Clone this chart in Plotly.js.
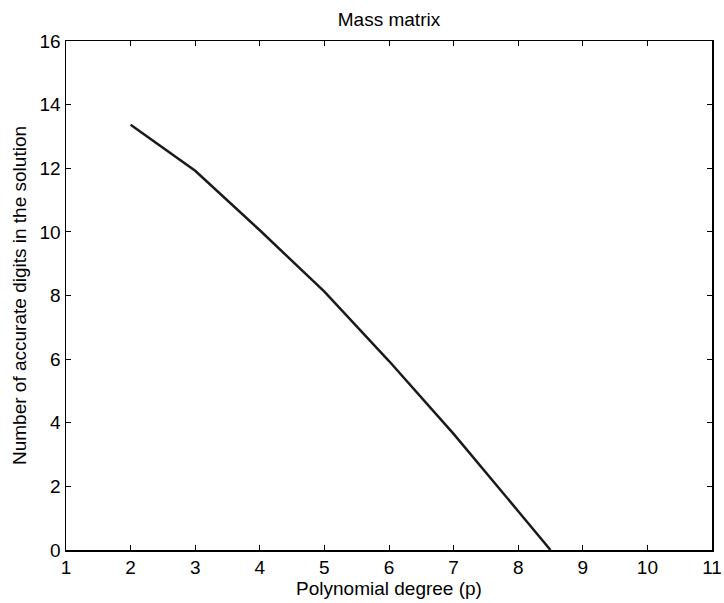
<!DOCTYPE html>
<html><head><meta charset="utf-8">
<script src="https://cdn.plot.ly/plotly-3.0.1.min.js"></script>
<style>body{margin:0;padding:0;background:#fff}</style>
</head><body>
<div id="chart" style="width:724px;height:603px"></div>
<script>
const degree = [2, 3, 4, 5, 6, 7, 8, 8.5];
const accurateDigits = [13.37, 11.92, 10.05, 8.12, 5.94, 3.65, 1.22, 0];
const xTicks = [1, 2, 3, 4, 5, 6, 7, 8, 9, 10, 11];
const yTicks = [0, 2, 4, 6, 8, 10, 12, 14, 16];

const font = {family: 'Liberation Sans, Arial, sans-serif', color: '#000'};
const axisCommon = {
  showgrid: false, zeroline: false, showline: true, linecolor: '#000', linewidth: 1.5,
  mirror: 'ticks', ticks: 'inside', ticklen: 5, tickwidth: 1, tickcolor: '#000',
  tickfont: Object.assign({size: 19}, font)
};
Plotly.newPlot('chart', [{
  x: degree, y: accurateDigits, mode: 'lines', type: 'scatter',
  line: {color: '#1a1a1a', width: 2.5}, showlegend: false
}], {
  width: 724, height: 603,
  margin: {l: 66, r: 12, t: 41, b: 53},
  paper_bgcolor: '#fff', plot_bgcolor: '#fff',
  title: {text: 'Mass matrix', font: Object.assign({size: 19}, font), xref: 'paper', x: 0.5, xanchor: 'center', yref: 'container', y: 0.968, yanchor: 'middle'},
  xaxis: Object.assign({}, axisCommon, {range: [1, 11], tickvals: xTicks, ticktext: xTicks.map(String),
    title: {text: 'Polynomial degree (p)', font: Object.assign({size: 19}, font), standoff: 2}}),
  yaxis: Object.assign({}, axisCommon, {range: [0, 16], tickvals: yTicks, ticktext: yTicks.map(String),
    title: {text: 'Number of accurate digits in the solution', font: Object.assign({size: 19}, font), standoff: 8}})
}, {displayModeBar: false, staticPlot: true});
</script>
</body></html>
